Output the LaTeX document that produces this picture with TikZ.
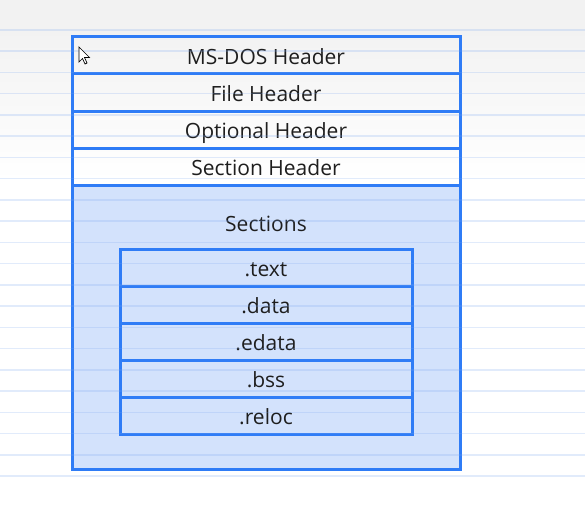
\documentclass[tikz,border=0pt]{standalone}
\usepackage{fontspec}
\setmainfont{Open Sans}
\usetikzlibrary{positioning}
\definecolor{peblue}{RGB}{47,124,246}
\definecolor{secfill}{RGB}{211,226,252}
\definecolor{ruleblue}{RGB}{120,165,240}
\definecolor{txtgray}{RGB}{30,30,30}
\definecolor{topgray}{RGB}{242,242,242}

\begin{document}
\begin{tikzpicture}[x=1pt,y=-1pt,
	box/.style={draw=peblue, line width=3pt, outer sep=0pt, inner sep=0pt,
		minimum height=37pt, text height=18.5pt, text depth=0pt, text=txtgray,
		font=\fontsize{21}{24}\selectfont},
	hdr/.style={box, minimum width=388pt},
	sect/.style={box, minimum width=292pt}]
	\useasboundingbox (0,0) rectangle (585,508);
	
	% paper background
	\fill[white] (0,0) rectangle (585,508);
	\shade[top color=topgray, bottom color=white] (0,30) rectangle (585,180);
	\fill[topgray] (0,0) rectangle (585,30);
	
	% headers
	\node[hdr] (dos) at (266,55.5) {MS-DOS Header};
	\node[hdr, below=0pt of dos] (file) {File Header};
	\node[hdr, below=0pt of file] (opt) {Optional Header};
	\node[hdr, below=0pt of opt] (secthdr) {Section Header};
	
	% sections
	\node[hdr, fill=secfill, minimum height=284pt, below=0pt of secthdr] (sections) {};
	\node[font=\fontsize{21}{24}\selectfont, text=txtgray, inner sep=0pt, anchor=base]
		(seclbl) at ([yshift=-46pt]sections.north) {Sections};
	
	\node[sect, below=64pt of sections.north] (text) {.text};
	\node[sect, below=0pt of text] (data) {.data};
	\node[sect, below=0pt of data] (edata) {.edata};
	\node[sect, below=0pt of edata] (bss) {.bss};
	\node[sect, below=0pt of bss] (reloc) {.reloc};
	
	% ruled lines
	\foreach \k in {0,...,21}
		\draw[ruleblue, opacity=0.22, line width=1.5pt] (0,{30+21.24*\k}) -- (585,{30+21.24*\k});
	
	% mouse pointer
	\draw[black, line width=0.7pt, fill=white, line join=miter] (79,47) -- ++(0,15) -- ++(3.5,-3.5)
		-- ++(2.5,5.5) -- ++(2,-1) -- ++(-2.5,-5.5) -- ++(5,0) -- cycle;
\end{tikzpicture}
\end{document}
